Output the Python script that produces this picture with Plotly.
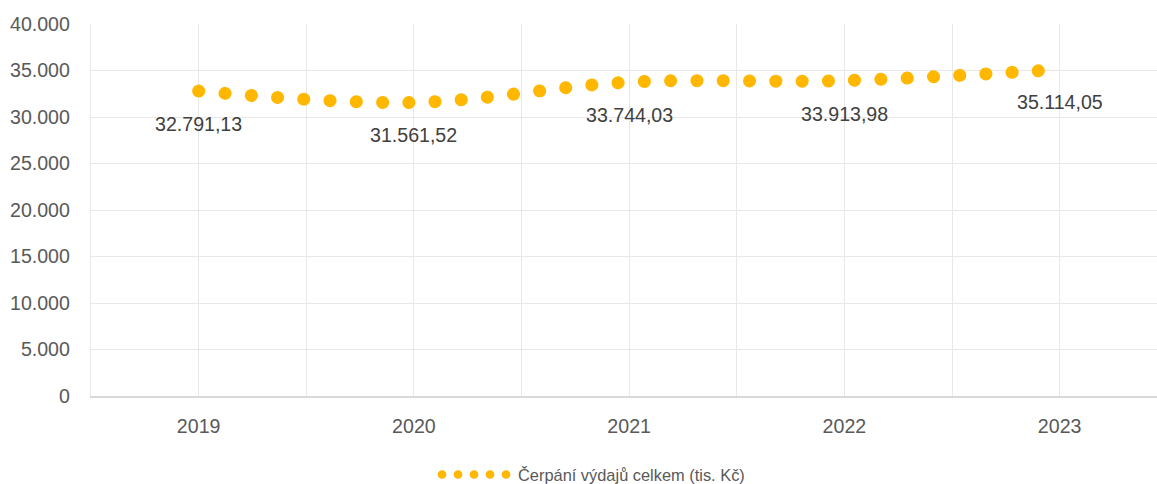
import plotly.graph_objects as go

# ---- data ----
years = [2019, 2020, 2021, 2022, 2023]
values = [32791.13, 31561.52, 33744.03, 33913.98, 35114.05]
series_name = "Čerpání výdajů celkem (tis. Kč)"
y_ticks = [0, 5000, 10000, 15000, 20000, 25000, 30000, 35000, 40000]

GOLD = "#FFB700"
TEXT = "#595959"
LABEL = "#404040"
GRID = "#e8e8e8"
AXIS = "#d9d9d9"
FONT = "Liberation Sans, Arial, sans-serif"
FS = 19.6


def cz(v):
    s = f"{v:,.2f}"
    return s.replace(",", "X").replace(".", ",").replace("X", ".")


fig = go.Figure()
fig.add_trace(go.Scatter(
    x=years, y=values, mode="lines", name=series_name,
    line=dict(color=GOLD, width=13, dash="0.1px,26.2px", shape="spline", smoothing=1),
    hoverinfo="skip",
))

for x, v in zip(years, values):
    fig.add_annotation(x=x, y=v, text=cz(v), showarrow=False, yshift=-33,
                       font=dict(family=FONT, size=FS, color=LABEL))

left_m, plot_w = 91, 1157 - 91
px_per_year = 215.25

fig.update_layout(
    width=1157, height=484,
    margin=dict(l=left_m, r=0, t=24, b=88, autoexpand=False),
    paper_bgcolor="white", plot_bgcolor="white",
    separators=",.",
    font=dict(family=FONT, size=FS, color=TEXT),
    showlegend=True,
    legend=dict(orientation="h", xref="container", yref="container",
                x=437 / 1157, y=0.019, xanchor="left", yanchor="middle",
                font=dict(family=FONT, size=16.4, color=TEXT), itemwidth=71),
    xaxis=dict(range=[years[0] - 0.5, years[0] - 0.5 + plot_w / px_per_year],
               tickmode="array", tickvals=years, ticktext=[str(y) for y in years],
               showgrid=True, gridcolor=GRID, gridwidth=1.3,
               minor=dict(tickvals=[y + 0.5 for y in years], showgrid=True,
                          gridcolor=GRID, gridwidth=1.3),
               showline=True, linecolor=AXIS, linewidth=1.5, automargin=False,
               ticks="", ticklabelstandoff=12, zeroline=False, fixedrange=True),
    yaxis=dict(range=[0, 40000], tickmode="array", tickvals=y_ticks,
               tickformat=",", showgrid=True, gridcolor=GRID, gridwidth=1.3,
               showline=True, linecolor=GRID, linewidth=1.3, automargin=False,
               ticks="", ticklabelstandoff=16, zeroline=False, fixedrange=True),
)

post = """
document.body.style.margin = '0';
document.documentElement.style.margin = '0';
var gd = document.getElementById('{plot_id}');
gd.querySelectorAll('.scatterlayer path.js-line').forEach(function(p){
  p.style.strokeLinecap = 'round';
});
gd.querySelectorAll('.legend path.js-line').forEach(function(p){
  p.setAttribute('d', 'M5,0h65');
  p.style.strokeLinecap = 'round';
  p.style.strokeWidth = '8.5px';
  p.style.strokeDasharray = '0.1px,15.9px';
});
"""

fig.write_html("out.html", post_script=post, config={"displayModeBar": False})
